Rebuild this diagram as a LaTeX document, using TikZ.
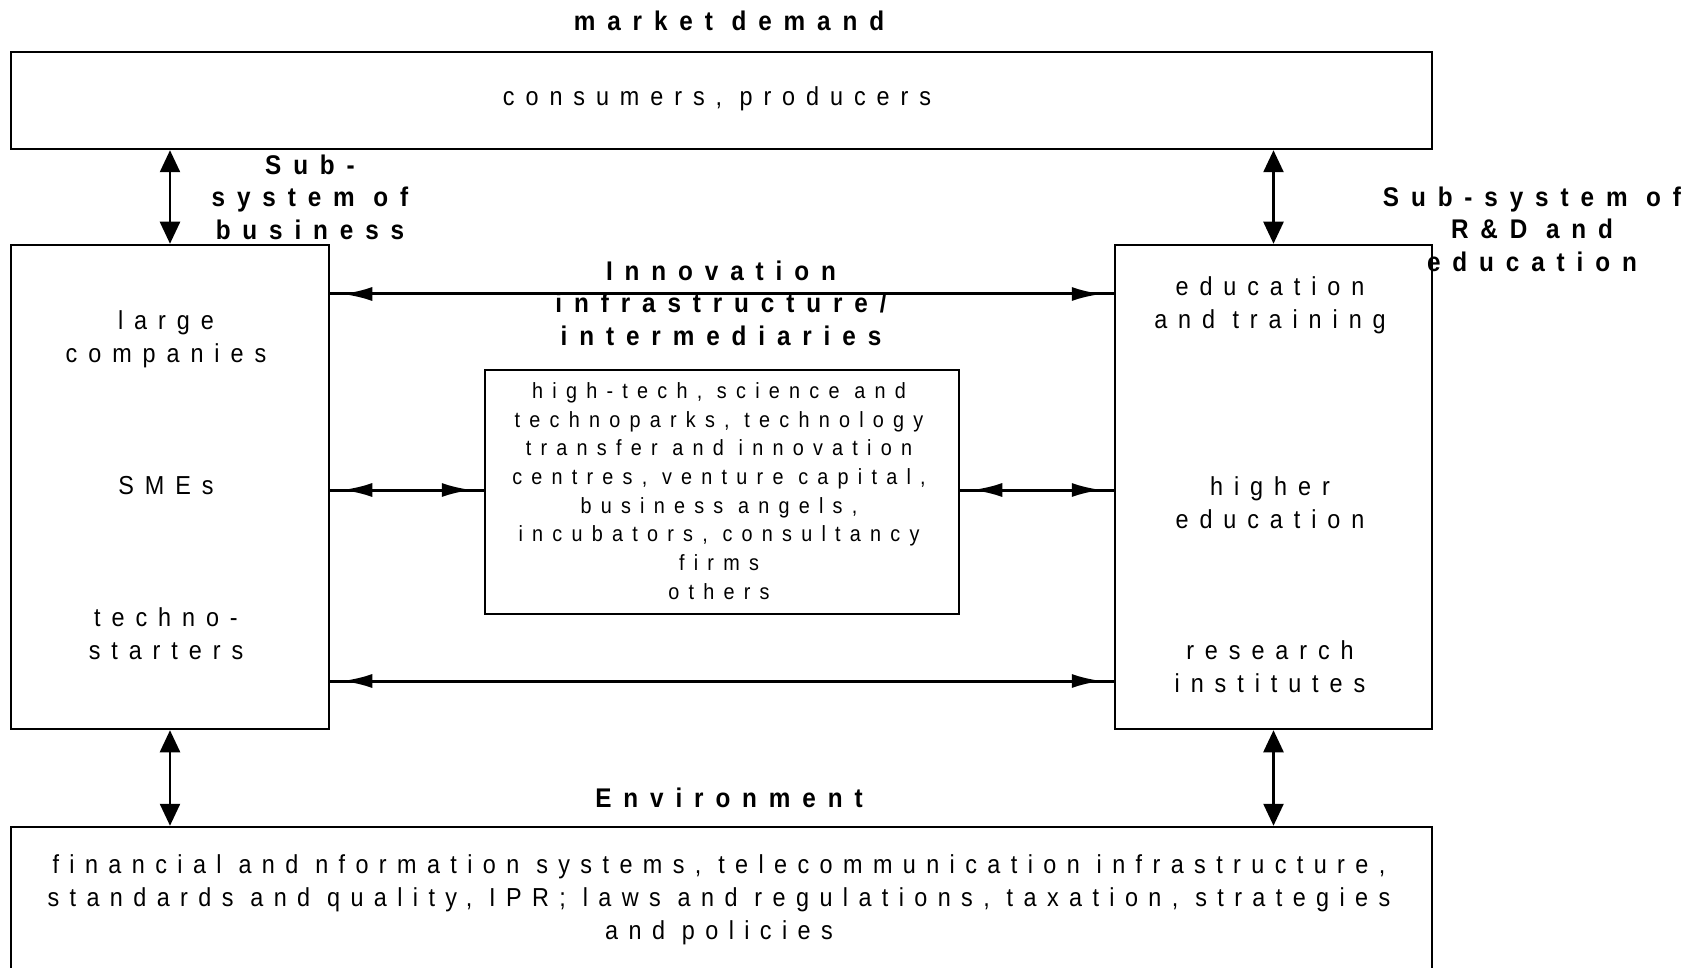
\documentclass[tikz,border=0pt]{standalone}
\usepackage{fontspec}
\usetikzlibrary{arrows.meta}
\newfontfamily\mainf[LetterSpace=42,FakeStretch=0.9]{Liberation Sans}
\newfontfamily\envf[LetterSpace=40,FakeStretch=0.9]{Liberation Sans}
\newfontfamily\boldf[LetterSpace=44,FakeStretch=0.9]{Liberation Sans Bold}
\tikzset{
  box/.style={draw, line width=2.5pt, rectangle, inner sep=0pt},
  txt/.style={align=center, inner sep=0pt, font={\mainf\fontsize{26}{33}\selectfont}},
  envtxt/.style={align=center, inner sep=0pt, font={\envf\fontsize{26}{33}\selectfont}},
  smalltxt/.style={align=center, inner sep=0pt, font={\mainf\fontsize{22}{28.7}\selectfont}},
  lbl/.style={align=center, inner sep=0pt, font={\boldf\fontsize{27}{32.6}\selectfont}},
  hline/.style={line width=3pt},
  harrow/.style={line width=3pt, {Latex[length=30pt,width=14pt]}-{Latex[length=30pt,width=14pt]}, shorten <=12pt, shorten >=12pt},
  varrow/.style={line width=2.5pt, {Triangle[length=22pt,width=20pt]}-{Triangle[length=22pt,width=20pt]}}
}
\begin{document}
\begin{tikzpicture}[x=1pt,y=-1pt]
\clip (0,0) rectangle (1706,968);
\fill[white] (0,0) rectangle (1706,968);

% boxes
\node[box, minimum width=1421pt, minimum height=97pt] (top) at (721.5,100.5) {};
\node[box, minimum width=318pt, minimum height=484pt] (L) at (170,487) {};
\node[box, minimum width=317pt, minimum height=484pt] (R) at (1273.5,487) {};
\node[box, minimum width=474pt, minimum height=244pt] (C) at (722,492) {};
\node[box, minimum width=1421pt, minimum height=160pt] (bot) at (721.5,907) {};

% texts
\node[lbl] (md) at (729,21) {market demand};
\node[txt] (cons) at (717,99) {consumers, producers};
\node[lbl] (subb) at (310,197) {Sub-\\system of\\business};
\node[lbl] (subr) at (1532,229) {Sub-system of\\R\&D and\\education};
\node[lbl] (inno) at (721,303) {Innovation\\infrastructure/\\intermediaries};
\node[txt] (lc) at (166,339) {large\\companies};
\node[txt] (sme) at (166,486) {SMEs};
\node[txt] (ts) at (166,634) {techno-\\starters};
\node[txt] (et) at (1270,305) {education\\and training};
\node[txt] (he) at (1270,503) {higher\\education};
\node[txt] (ri) at (1270,667) {research\\institutes};
\node[smalltxt] (ctext) at (719,491) {high-tech, science and\\technoparks, technology\\transfer and innovation\\centres, venture capital,\\business angels,\\incubators, consultancy\\firms\\others};
\node[lbl] (env) at (729,798) {Environment};
\node[envtxt] (btext) at (719,900) {financial and nformation systems, telecommunication infrastructure,\\standards and quality, IPR; laws and regulations, taxation, strategies\\and policies};

% vertical arrows
\draw[varrow] (L.north |- top.south) -- (L.north);
\draw[varrow] (R.north |- top.south) -- (R.north);
\draw[varrow] (L.south) -- (L.south |- bot.north);
\draw[varrow] (R.south) -- (R.south |- bot.north);

% horizontal arrows
\coordinate (y1) at (0,294);
\coordinate (y2) at (0,490);
\coordinate (y3) at (0,681);
\draw[hline] (L.east |- y1) -- (R.west |- y1);
\draw[harrow] (L.east |- y1) -- (R.west |- y1);
\draw[hline] (L.east |- y2) -- (C.west |- y2);
\draw[harrow] (L.east |- y2) -- (C.west |- y2);
\draw[hline] (C.east |- y2) -- (R.west |- y2);
\draw[harrow] (C.east |- y2) -- (R.west |- y2);
\draw[hline] (L.east |- y3) -- (R.west |- y3);
\draw[harrow] (L.east |- y3) -- (R.west |- y3);
\end{tikzpicture}
\end{document}
